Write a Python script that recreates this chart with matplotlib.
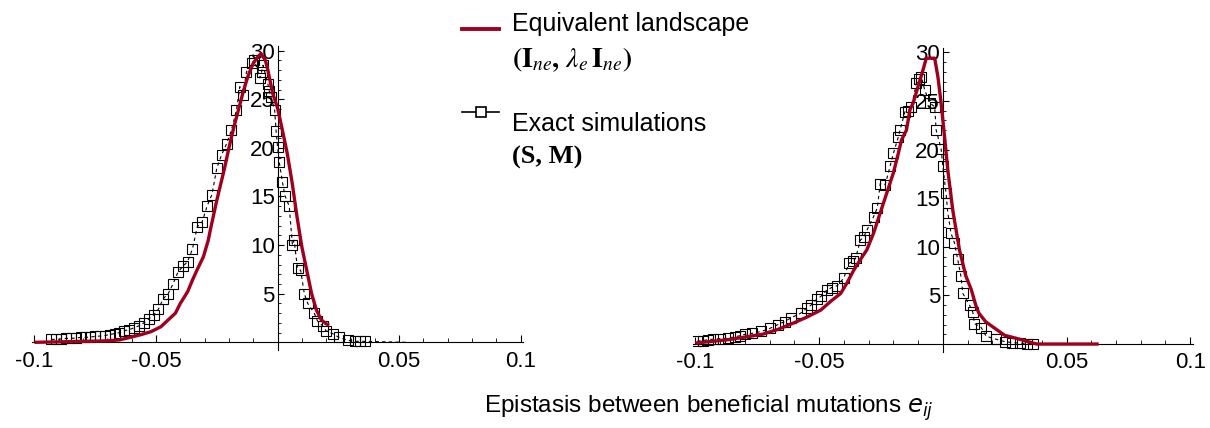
import matplotlib.pyplot as plt
from matplotlib.lines import Line2D
from matplotlib.ticker import MultipleLocator, FixedLocator

plt.rcParams['font.family'] = ['Liberation Sans', 'DejaVu Sans']

RED = '#a0001e'

# left panel: equivalent landscape (red curve)
left_eq_e = [-0.100, -0.090, -0.080, -0.070, -0.065, -0.060, -0.056, -0.052, -0.048, -0.045,
             -0.042, -0.040, -0.037, -0.035, -0.033, -0.0305, -0.0285, -0.0277, -0.025, -0.022,
             -0.020, -0.018, -0.016, -0.014, -0.012, -0.010, -0.008, -0.0068, -0.005, -0.004,
             -0.002, 0.000, 0.002, 0.004, 0.006, 0.008, 0.010, 0.012, 0.014, 0.016,
             0.018, 0.020, 0.0212]
left_eq_v = [0.0, 0.05, 0.1, 0.15, 0.25, 0.55, 0.8, 1.1, 1.6, 2.3,
             3.0, 4.0, 5.2, 6.4, 7.5, 8.8, 10.5, 11.5, 14.6, 17.7,
             20.0, 22.1, 24.0, 25.9, 27.5, 28.7, 29.4, 29.7, 29.0, 28.0,
             25.6, 24.1, 21.8, 19.4, 16.4, 12.9, 9.8, 7.4, 5.0, 3.3,
             2.3, 1.9, 1.75]

# left panel: exact simulations (squares), last point is the dotted tail
left_sim_e = [-0.093, -0.091, -0.089, -0.087, -0.085, -0.083, -0.081, -0.079, -0.077, -0.075,
              -0.073, -0.071, -0.069, -0.067, -0.065, -0.063, -0.061, -0.059, -0.057, -0.055,
              -0.053, -0.051, -0.049, -0.047, -0.045, -0.043, -0.041, -0.039, -0.037, -0.035,
              -0.033, -0.031, -0.029, -0.027, -0.025, -0.023, -0.021, -0.019, -0.0169, -0.0155,
              -0.0143, -0.0128, -0.0107, -0.0095, -0.0073, -0.0066, -0.006, -0.004, -0.0034, -0.0027,
              -0.0012, -0.0006, 0.000, 0.0007, 0.002, 0.003, 0.0048, 0.0061, 0.0068, 0.0082,
              0.0095, 0.011, 0.0124, 0.0151, 0.0164, 0.0185, 0.0199, 0.0226, 0.0253, 0.029,
              0.032, 0.034, 0.036, 0.053]
left_sim_v = [0.3, 0.3, 0.35, 0.4, 0.4, 0.45, 0.5, 0.5, 0.55, 0.6,
              0.65, 0.7, 0.8, 0.9, 1.0, 1.2, 1.3, 1.5, 1.7, 2.0,
              2.4, 2.8, 3.4, 4.5, 5.0, 6.0, 7.2, 7.8, 8.3, 9.6,
              11.9, 12.4, 14.0, 15.2, 17.9, 19.3, 20.4, 21.8, 23.9, 26.3,
              25.4, 27.8, 28.7, 29.0, 27.2, 27.8, 28.5, 26.6, 25.8, 25.2,
              23.9, 21.7, 20.1, 18.5, 16.5, 15.1, 14.0, 10.0, 10.5, 7.6,
              7.4, 5.0, 4.0, 3.0, 2.2, 1.7, 1.2, 0.9, 0.5, 0.2,
              0.1, 0.1, 0.1, 0.0]

# right panel: equivalent landscape
right_eq_e = [-0.100, -0.0867, -0.073, -0.0667, -0.060, -0.0547, -0.0493, -0.0453, -0.0413, -0.0387,
              -0.036, -0.0333, -0.0307, -0.028, -0.0253, -0.0227, -0.020, -0.018, -0.0167, -0.0147,
              -0.0133, -0.012, -0.010, -0.008, -0.0067, -0.0047, -0.0033, -0.002, -0.0007, 0.0007,
              0.002, 0.004, 0.0067, 0.0093, 0.0115, 0.0133, 0.0145, 0.0173, 0.020, 0.025,
              0.031, 0.035, 0.038, 0.063]
right_eq_v = [0.1, 0.45, 1.0, 1.5, 2.2, 2.8, 3.5, 4.4, 5.2, 6.3,
              7.6, 8.7, 9.7, 11.4, 13.5, 15.5, 17.6, 19.6, 21.0, 22.0,
              24.1, 24.8, 26.5, 28.2, 29.4, 29.4, 29.4, 27.5, 24.8, 21.3,
              17.9, 13.8, 9.7, 7.0, 5.6, 4.0, 3.2, 2.3, 1.8, 0.9,
              0.5, 0.2, 0.0, 0.0]

# right panel: exact simulations
right_sim_e = [-0.0993, -0.097, -0.095, -0.093, -0.090, -0.0867, -0.084, -0.082, -0.080, -0.077,
               -0.0733, -0.070, -0.0667, -0.064, -0.0613, -0.0573, -0.055, -0.0533, -0.051, -0.0493,
               -0.0467, -0.045, -0.0427, -0.040, -0.038, -0.0365, -0.0353, -0.0333, -0.032, -0.0307,
               -0.028, -0.0265, -0.0253, -0.0233, -0.0213, -0.020, -0.018, -0.0173, -0.0153, -0.014,
               -0.0127, -0.0107, -0.0095, -0.0087, -0.0073, -0.0053, -0.0033, -0.0027, -0.0007, 0.000,
               0.0013, 0.002, 0.0033, 0.0047, 0.006, 0.0073, 0.0081, 0.0108, 0.0121, 0.0128,
               0.0155, 0.0175, 0.0215, 0.025, 0.028, 0.031, 0.034, 0.0365]
right_sim_v = [0.3, 0.35, 0.45, 0.5, 0.55, 0.6, 0.75, 0.85, 1.0, 1.1,
               1.3, 1.6, 2.0, 2.3, 2.7, 3.2, 3.7, 4.0, 4.6, 4.9,
               5.6, 5.8, 6.0, 6.8, 8.3, 8.5, 8.8, 10.7, 11.0, 11.7,
               13.1, 14.0, 16.5, 16.4, 18.3, 19.6, 21.3, 22.0, 23.9, 24.0,
               24.4, 26.8, 27.3, 27.5, 26.1, 24.8, 24.4, 22.0, 20.1, 18.3,
               15.5, 13.5, 11.4, 10.4, 8.7, 7.0, 5.2, 4.0, 3.3, 2.1,
               1.7, 0.8, 0.5, 0.25, 0.15, 0.1, 0.05, 0.05]

x_ticks = [-0.1, -0.05, 0.05, 0.1]
x_tick_labels = ['-0.1', '-0.05', '0.05', '0.1']
y_ticks = [5, 10, 15, 20, 25, 30]


def style_axes(ax):
    ax.set_xlim(-0.101, 0.101)
    ax.set_ylim(-0.8, 30.5)
    ax.spines['left'].set_position(('data', 0))
    ax.spines['bottom'].set_position(('data', 0))
    ax.spines['top'].set_visible(False)
    ax.spines['right'].set_visible(False)
    for s in ('left', 'bottom'):
        ax.spines[s].set_linewidth(0.8)
    ax.xaxis.set_major_locator(FixedLocator(x_ticks))
    ax.set_xticklabels(x_tick_labels)
    ax.xaxis.set_minor_locator(MultipleLocator(0.01))
    ax.yaxis.set_major_locator(FixedLocator(y_ticks))
    ax.yaxis.set_minor_locator(MultipleLocator(1))
    ax.tick_params(axis='x', which='major', direction='in', length=5, width=0.8,
                   labelsize=16, pad=6)
    ax.tick_params(axis='x', which='minor', direction='in', length=3, width=0.6)
    ax.tick_params(axis='y', which='major', direction='in', length=4, width=0.8,
                   labelsize=16, pad=2)
    ax.tick_params(axis='y', which='minor', direction='in', length=2, width=0.6)
    ax.patch.set_alpha(0)


fig = plt.figure(figsize=(12.1, 4.28), dpi=100)
ax1 = fig.add_axes([0.0264, 0.182, 0.406, 0.711])
ax2 = fig.add_axes([0.5727, 0.178, 0.413, 0.711])

for ax, se, sv, ee, ev in [(ax1, left_sim_e, left_sim_v, left_eq_e, left_eq_v),
                           (ax2, right_sim_e, right_sim_v, right_eq_e, right_eq_v)]:
    style_axes(ax)
    mark = slice(0, len(se) - 1) if sv[-1] == 0 else None
    ax.plot(se, sv, color='black', lw=0.8, ls=(0, (3, 3)), marker='s', ms=7,
            mfc='none', mec='black', mew=0.8, markevery=mark, zorder=2)
    ax.plot(ee, ev, color=RED, lw=2.4, zorder=3, solid_capstyle='butt')

# legend drawn by hand in figure coordinates
W, H = 1210, 428
fig.add_artist(Line2D([462 / W, 499 / W], [1 - 29 / H, 1 - 29 / H], color=RED, lw=2.8))
fig.add_artist(Line2D([462 / W, 481 / W, 499 / W], [1 - 112 / H] * 3,
                      color='black', lw=1.2, marker='s', ms=7.5, mfc='white', mec='black',
                      mew=1.2, markevery=[1]))
fig.text(512 / W, 1 - 24 / H, 'Equivalent landscape', fontsize=18, va='center')
fig.text(512 / W, 1 - 60 / H,
         r'$\mathbf{(I}_{ne}\mathbf{,}\ \lambda_e\,\mathbf{I}_{ne}\mathbf{)}$',
         fontsize=20, va='center', math_fontfamily='stix')
fig.text(512 / W, 1 - 124 / H, 'Exact simulations', fontsize=18, va='center')
fig.text(512 / W, 1 - 157 / H, '(S, M)', fontsize=19, va='center',
         family='Liberation Serif', weight='bold')

fig.text(709 / W, 1 - 408 / H, r'Epistasis between beneficial mutations $e_{ij}$',
         fontsize=17.5, ha='center', va='center', math_fontfamily='dejavusans')

fig.savefig('out.png', dpi=100)
